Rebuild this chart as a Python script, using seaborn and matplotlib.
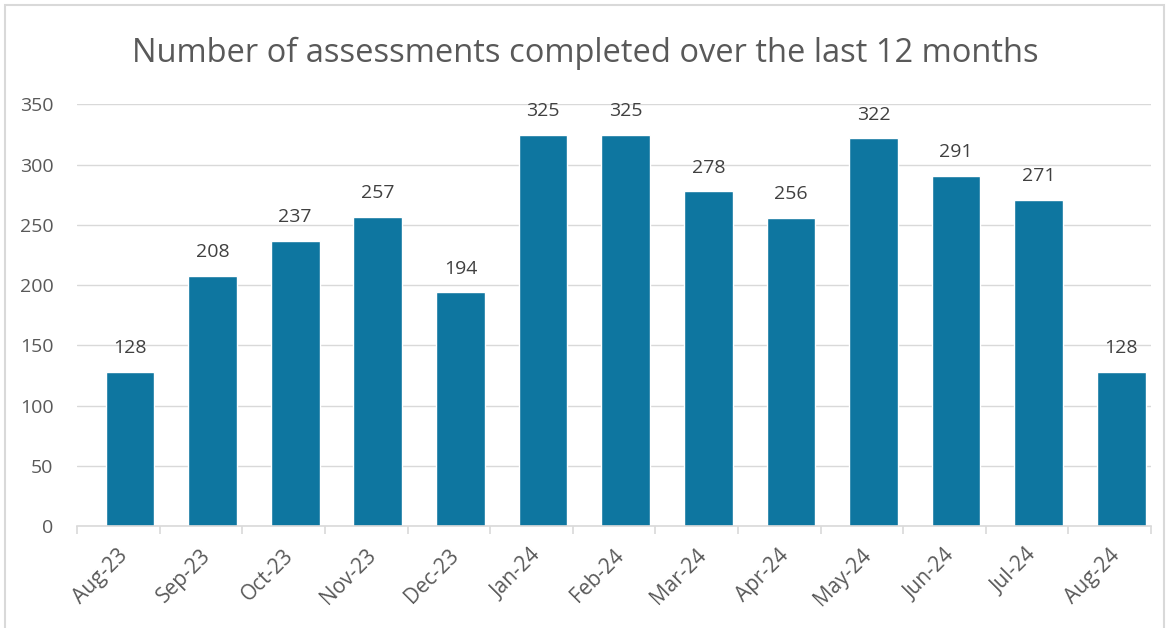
import pandas as pd
import matplotlib.pyplot as plt
import matplotlib.transforms as mtransforms
import seaborn as sns
from matplotlib.patches import Rectangle

# Chart data
months = ["Aug-23", "Sep-23", "Oct-23", "Nov-23", "Dec-23", "Jan-24", "Feb-24",
          "Mar-24", "Apr-24", "May-24", "Jun-24", "Jul-24", "Aug-24"]
assessments = [128, 208, 237, 257, 194, 325, 325, 278, 256, 322, 291, 271, 128]

df = pd.DataFrame({"month": months, "count": assessments})

sns.set_theme(style="white")
plt.rcParams["font.family"] = ["Open Sans", "DejaVu Sans"]
text_col = "#595959"
grid_col = "#D9D9D9"

fig = plt.figure(figsize=(11.71, 6.28), dpi=100)
ax = fig.add_axes([0.0658, 0.1624, 0.9172, 0.6712])

sns.barplot(data=df, x="month", y="count", color="#0E76A0", saturation=1,
            width=0.59, ax=ax)

for i, v in enumerate(assessments):
    ax.text(i, v + 12, str(v), ha="center", va="bottom", fontsize=14, color="#404040")

# bars sit a little right of the category slots, like the original
shift = 0.14
ax.set_ylim(0, 350)
ax.set_xlim(-0.5 - shift, len(months) - 0.5 - shift)
ax.set_yticks(range(0, 351, 50))
ax.yaxis.grid(True, color=grid_col, linewidth=1)
ax.set_axisbelow(True)
for s in ["top", "right", "left"]:
    ax.spines[s].set_visible(False)
ax.spines["bottom"].set_color(grid_col)
ax.spines["bottom"].set_linewidth(1.2)

ax.set_xticks([i - 0.5 - shift for i in range(len(months) + 1)], minor=True)
ax.tick_params(axis="x", which="minor", length=6, color=grid_col, width=1.2, bottom=True)
ax.tick_params(axis="x", which="major", length=0, pad=19)
ax.set_xticklabels(months, rotation=45, ha="right", va="center", rotation_mode="anchor",
                   fontsize=15, color=text_col)
nudge = mtransforms.ScaledTranslation(-5 / 100, 0, fig.dpi_scale_trans)
for lbl in ax.get_xticklabels():
    lbl.set_transform(lbl.get_transform() + nudge)
ax.tick_params(axis="y", length=0, labelsize=14, labelcolor=text_col, pad=17)
ax.set_xlabel("")
ax.set_ylabel("")

fig.text(0.5, 0.915, "Number of assessments completed over the last 12 months",
         ha="center", va="center", fontsize=23.5, color=text_col)

fig.patches.append(Rectangle((0.004, -0.01), 0.99, 1.002, transform=fig.transFigure,
                             fill=False, edgecolor=grid_col, linewidth=1.5))

plt.savefig("out.png", dpi=100)
